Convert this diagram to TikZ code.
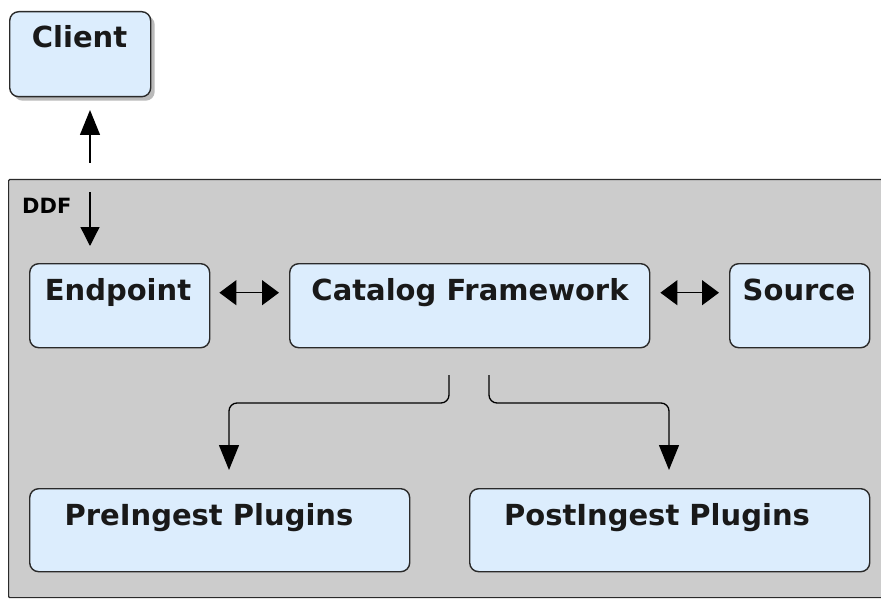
\documentclass[tikz,border=0pt]{standalone}
\usepackage{fontspec}
\setmainfont{DejaVu Sans}
\usetikzlibrary{arrows.meta,shadows}
\definecolor{boxfill}{HTML}{DCEDFD}
\definecolor{ddfgrey}{HTML}{CCCCCC}
\definecolor{edge}{HTML}{2A2A2A}
\tikzset{
  box/.style={draw=edge, line width=1.4pt, fill=boxfill, rounded corners=9pt},
  lbl/.style={font=\bfseries\fontsize{29}{34}\selectfont, anchor=base, inner sep=0pt, text=black!90},
  arr/.style={line width=1.3pt, -{Triangle[width=20pt,length=25pt]}},
  arrs/.style={line width=1.3pt, -{Triangle[width=19pt,length=19pt]}},
  darr/.style={line width=1.3pt, {Triangle[width=25pt,length=17pt]}-{Triangle[width=25pt,length=17pt]}},
}
\begin{document}
\begin{tikzpicture}[x=1pt,y=-1pt]
\useasboundingbox (0,0) rectangle (881,599);
% DDF container
\node[draw=edge, line width=1.2pt, fill=ddfgrey, minimum width=875pt, minimum height=418pt, anchor=north west, inner sep=0pt, rounded corners=1pt] (ddf) at (8,179) {};
\node[font=\bfseries\fontsize{21}{24}\selectfont, anchor=base west, inner sep=0pt] (ddflbl) at (22,213) {DDF};
% boxes
\node[box, drop shadow={shadow xshift=4pt, shadow yshift=-4pt, opacity=0.45, fill=black!60}, minimum width=141pt, minimum height=85pt, anchor=north west, inner sep=0pt] (client) at (9,11) {};
\node[lbl] (clientT) at (79.5,48) {Client};
\node[box, minimum width=180pt, minimum height=84pt, anchor=north west, inner sep=0pt] (endp) at (29,263) {};
\node[lbl] (endpT) at (118,300) {Endpoint};
\node[box, minimum width=360pt, minimum height=84pt, anchor=north west, inner sep=0pt] (cf) at (289,263) {};
\node[lbl] (cfT) at (470,300) {Catalog Framework};
\node[box, minimum width=140pt, minimum height=84pt, anchor=north west, inner sep=0pt] (src) at (729,263) {};
\node[lbl] (srcT) at (799,300) {Source};
\node[box, minimum width=380pt, minimum height=83pt, anchor=north west, inner sep=0pt] (pre) at (29,488) {};
\node[lbl] (preT) at (209,525) {PreIngest Plugins};
\node[box, minimum width=400pt, minimum height=83pt, anchor=north west, inner sep=0pt] (post) at (469,488) {};
\node[lbl] (postT) at (657,525) {PostIngest Plugins};
% connector endpoints
\coordinate (upS) at (90,163);
\coordinate (upE) at (90,110);
\coordinate (dnS) at (90,192);
\coordinate (dnE) at (90,246);
\coordinate (cfL) at (449,375);
\coordinate (cfR) at (489,375);
\coordinate (preTip) at (229,470);
\coordinate (postTip) at (669,470);
% connectors
\draw[arr] (upS) -- (upE);
\draw[arrs] (dnS) -- (dnE);
\draw[darr] ([xshift=9pt,yshift=13pt]endp.east) -- ([xshift=-10pt,yshift=13pt]cf.west);
\draw[darr] ([xshift=10pt,yshift=13pt]cf.east) -- ([xshift=-10pt,yshift=13pt]src.west);
\draw[arr, rounded corners=8pt] (cfL) -- ++(0,28) -| (preTip);
\draw[arr, rounded corners=8pt] (cfR) -- ++(0,28) -| (postTip);
\end{tikzpicture}
\end{document}
